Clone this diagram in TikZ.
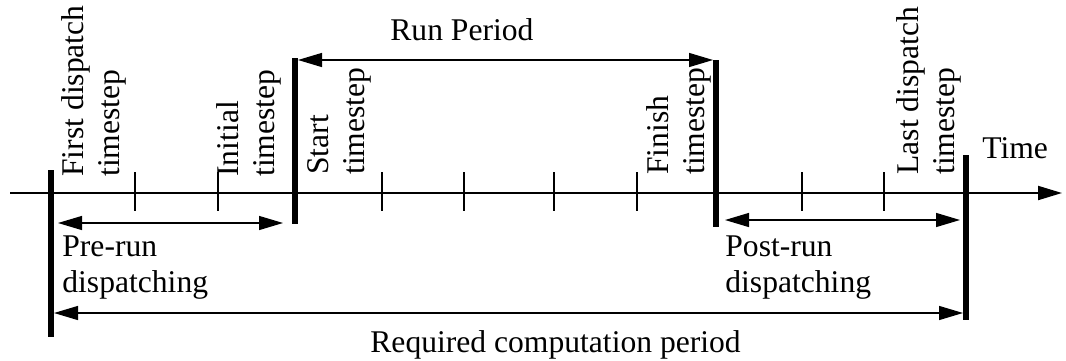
\documentclass[tikz,border=0pt]{standalone}
\usepackage{fontspec}
\setmainfont{Liberation Serif}
\usetikzlibrary{arrows.meta}

\tikzset{
  tip/.style={-{Triangle[length=12pt,width=7pt]}},
  span/.style={{Triangle[length=12pt,width=7pt]}-{Triangle[length=12pt,width=7pt]}, line width=0.65pt},
  bar/.style={line width=2.7pt},
  tickmark/.style={line width=0.8pt},
  steplabel/.style={rotate=90, anchor=south west, align=left, inner sep=0pt},
  txt/.style={inner sep=0pt},
}

\begin{document}
\begin{tikzpicture}[x=0.5pt, y=-0.5pt, font=\fontsize{15.8}{18}\selectfont]
    \useasboundingbox (0,0) rectangle (1066,360);

    % time axis
    \coordinate (axisL) at (10,193);
    \coordinate (axisR) at (1062,193);
    \draw[tip, line width=1pt] (axisL) -- (axisR);
    \node[txt, anchor=base west] (time) at (982,158) {Time};

    % timesteps
    \foreach \x in {135,218,382,464,554,637,802,884}
        \draw[tickmark] (\x,172) -- (\x,211);

    % first, start, finish and last timesteps
    \coordinate (firstTop) at (51,170);   \coordinate (firstBot) at (51,337);
    \coordinate (startTop) at (295,58);   \coordinate (startBot) at (295,224);
    \coordinate (finishTop) at (716,60);  \coordinate (finishBot) at (716,227);
    \coordinate (lastTop) at (966,155);   \coordinate (lastBot) at (966,320);
    \draw[bar] (firstTop) -- (firstBot);
    \draw[bar] (startTop) -- (startBot);
    \draw[bar] (finishTop) -- (finishBot);
    \draw[bar] (lastTop) -- (lastBot);

    \node[steplabel] (firstLbl) at (127,177) {First dispatch\\timestep};
    \node[steplabel] (initLbl) at (282,177) {Initial\\timestep};
    \node[steplabel] (startLbl) at (372,175) {Start\\timestep};
    \node[steplabel] (finishLbl) at (712,175) {Finish\\timestep};
    \node[steplabel] (lastLbl) at (962,175) {Last dispatch\\timestep};

    % periods
    \coordinate (runL) at (298,60);   \coordinate (runR) at (713,60);
    \coordinate (preL) at (58,223);   \coordinate (preR) at (283,223);
    \coordinate (postL) at (725,220); \coordinate (postR) at (960,220);
    \coordinate (reqL) at (54,313);   \coordinate (reqR) at (963,313);
    \draw[span] (runL) -- (runR);
    \draw[span] (preL) -- (preR);
    \draw[span] (postL) -- (postR);
    \draw[span] (reqL) -- (reqR);

    \node[txt, anchor=base west] (run) at (390,40) {Run Period};
    \node[txt, anchor=north west, align=left] (pre) at (62,235) {Pre-run\\dispatching};
    \node[txt, anchor=north west, align=left] (post) at (725,235) {Post-run\\dispatching};
    \node[txt, anchor=base west] (req) at (370,352) {Required computation period};
\end{tikzpicture}
\end{document}
